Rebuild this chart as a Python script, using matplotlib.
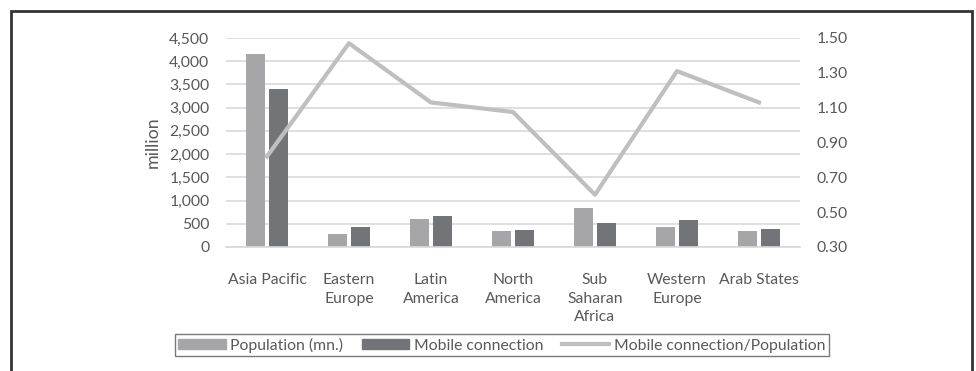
import matplotlib
matplotlib.use("Agg")
import matplotlib.pyplot as plt
from matplotlib.patches import Rectangle
from matplotlib.lines import Line2D
import numpy as np

plt.rcParams['font.family'] = ['Lato', 'DejaVu Sans']

categories = ["Asia Pacific", "Eastern\nEurope", "Latin\nAmerica", "North\nAmerica",
              "Sub\nSaharan\nAfrica", "Western\nEurope", "Arab States"]
population = [4150, 280, 600, 345, 840, 430, 345]
mobile = [3400, 430, 665, 365, 515, 580, 388]
ratio = [0.82, 1.47, 1.13, 1.075, 0.60, 1.31, 1.13]

left_ticks = list(range(0, 4501, 500))
right_ticks = [0.30, 0.50, 0.70, 0.90, 1.10, 1.30, 1.50]

txt = '#595959'
c_pop = '#A6A6A8'
c_mob = '#737477'
c_line = '#BFBFBF'
c_grid = '#D9D9D9'
fs = 11.3

fig = plt.figure(figsize=(9.76, 3.71), dpi=100)
ax = fig.add_axes([226/976, 1-247/371, (800-226)/976, (247-38)/371])
x = np.arange(len(categories))
w = 0.23
ax.bar(x - 0.025 - w/2, population, width=w, color=c_pop, zorder=2, label='Population (mn.)')
ax.bar(x + 0.025 + w/2, mobile, width=w, color=c_mob, zorder=2, label='Mobile connection')
ax.set_xlim(-0.5, len(categories) - 0.5)
ax.set_ylim(0, 4500)
ax.set_yticks(left_ticks)
ax.set_yticklabels([f"{v:,}" for v in left_ticks])
ax.grid(axis='y', color=c_grid, linewidth=1.2, zorder=0)
ax.set_axisbelow(True)
for s in ['top', 'right', 'left']:
    ax.spines[s].set_visible(False)
ax.spines['bottom'].set_color(c_grid)
ax.spines['bottom'].set_linewidth(1.2)
ax.set_xticks(x)
ax.set_xticklabels(categories, linespacing=1.4)
ax.tick_params(axis='both', length=0, colors=txt, labelsize=fs)
ax.tick_params(axis='x', pad=19)
ax.tick_params(axis='y', pad=12)
ax.set_ylabel('million', color=txt, fontsize=12.8, labelpad=6)

ax2 = ax.twinx()
ax2.plot(x, ratio, color=c_line, linewidth=3, zorder=3, label='Mobile connection/Population')
ax2.set_ylim(0.30, 1.50)
ax2.set_yticks(right_ticks)
ax2.set_yticklabels([f"{v:.2f}" for v in right_ticks])
ax2.tick_params(axis='y', length=0, colors=txt, labelsize=fs, pad=12)
for s in ax2.spines.values():
    s.set_visible(False)

handles = [Rectangle((0, 0), 1, 1, color=c_pop), Rectangle((0, 0), 1, 1, color=c_mob),
           Line2D([0], [0], color=c_line, linewidth=3)]
labels = ['Population (mn.)', 'Mobile connection', 'Mobile connection/Population']
leg = fig.legend(handles, labels, loc='center', bbox_to_anchor=(502/976, 1-345/371), ncol=3,
                 frameon=True, fancybox=False, edgecolor='#595959', fontsize=fs,
                 handlelength=3.0, handleheight=0.55, columnspacing=1.2, handletextpad=0.3,
                 borderpad=0.25, labelcolor=txt)
leg.get_frame().set_linewidth(1.0)

fig.patches.append(Rectangle((11/976, -0.1), (972-11)/976, 1-11/371+0.1,
                             transform=fig.transFigure, fill=False, edgecolor='#333333',
                             linewidth=2, clip_on=False))

fig.savefig('out.png', dpi=100)
